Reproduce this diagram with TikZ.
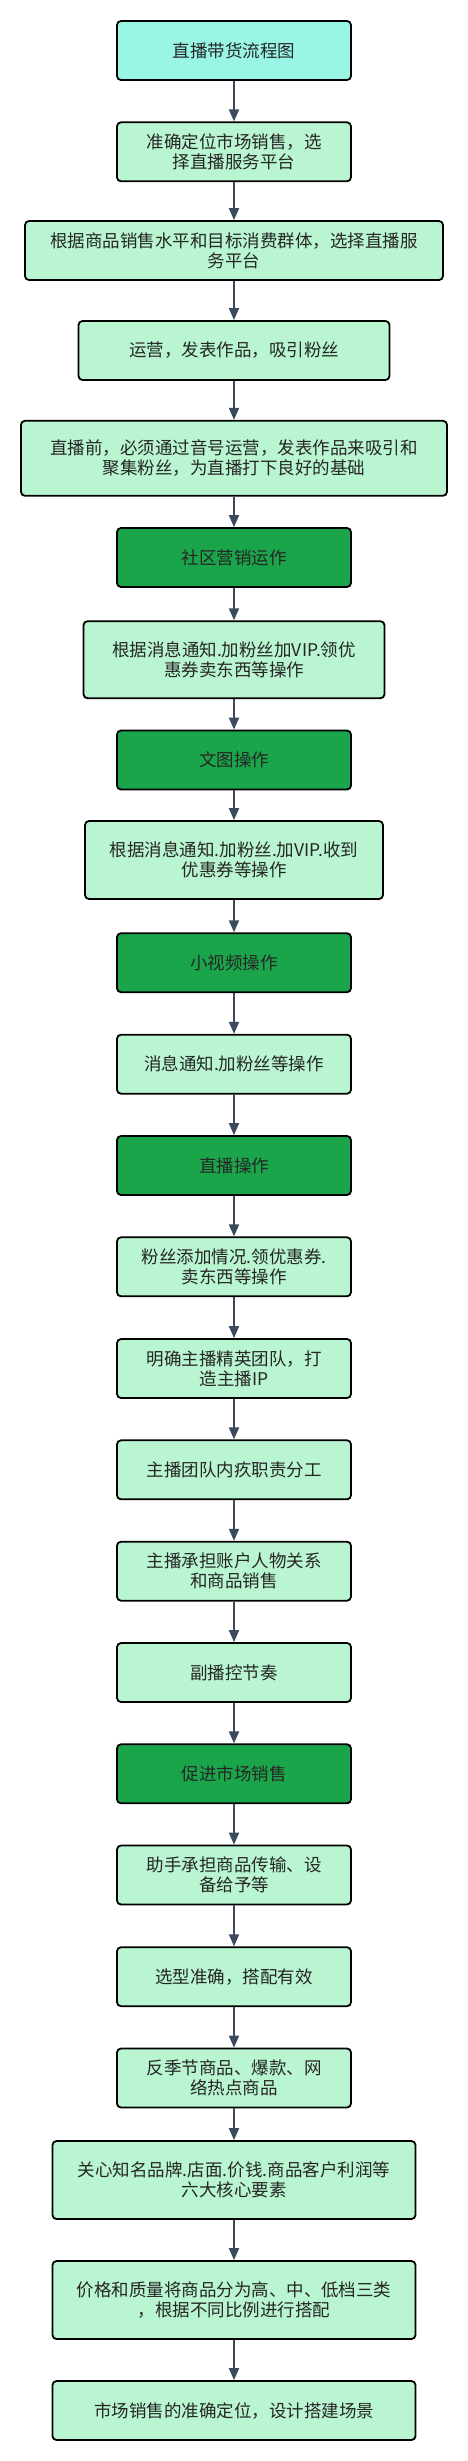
\documentclass[tikz,border=0pt]{standalone}
\usepackage{fontspec}
\setmainfont{Noto Sans CJK SC}
\usepackage{tikz}
\usetikzlibrary{arrows.meta, positioning}
\definecolor{titlecyan}{RGB}{153,245,228}
\definecolor{stepgreen}{RGB}{185,245,208}
\definecolor{opgreen}{RGB}{26,165,75}
\definecolor{flowslate}{RGB}{60,74,94}

\tikzset{
  stepbox/.style={draw=black, line width=1.8pt, rounded corners=4pt, fill=stepgreen,
    align=center, inner sep=0pt, minimum width=234pt, minimum height=59pt,
    text=black!85, font=\fontsize{17.5}{20}\selectfont},
  titlebox/.style={stepbox, fill=titlecyan},
  opbox/.style={stepbox, fill=opgreen},
  flow/.style={draw=flowslate, line width=1.8pt, -{Triangle[width=10pt,length=12pt]}}
}

\begin{document}
\begin{tikzpicture}[x=1pt, y=1pt]
  \useasboundingbox (0,0) rectangle (468,-2461);

  \node[titlebox] (n1) at (234,-50.5) {直播带货流程图};
  \node[stepbox] (n2) at (234,-151.8) {准确定位市场销售，选\\择直播服务平台};
  \node[stepbox, minimum width=418pt] (n3) at (234,-250.5) {根据商品销售水平和目标消费群体，选择直播服\\务平台};
  \node[stepbox, minimum width=311pt] (n4) at (234,-350.5) {运营，发表作品，吸引粉丝};
  \node[stepbox, minimum width=426pt, minimum height=75pt] (n5) at (234,-458.3) {直播前，必须通过音号运营，发表作品来吸引和\\聚集粉丝，为直播打下良好的基础};
  \node[opbox] (n6) at (234,-557.5) {社区营销运作};
  \node[stepbox, minimum width=301pt, minimum height=77pt] (n7) at (234,-659.7) {根据消息通知.加粉丝加VIP.领优\\惠券卖东西等操作};
  \node[opbox] (n8) at (234,-760) {文图操作};
  \node[stepbox, minimum width=298pt, minimum height=78pt] (n9) at (234,-860) {根据消息通知.加粉丝.加VIP.收到\\优惠券等操作};
  \node[opbox] (n10) at (234,-962.7) {小视频操作};
  \node[stepbox] (n11) at (234,-1064.2) {消息通知.加粉丝等操作};
  \node[opbox] (n12) at (234,-1165.5) {直播操作};
  \node[stepbox] (n13) at (234,-1266.8) {粉丝添加情况.领优惠券.\\卖东西等操作};
  \node[stepbox] (n14) at (234,-1368.5) {明确主播精英团队，打\\造主播IP};
  \node[stepbox] (n15) at (234,-1469.8) {主播团队内疚职责分工};
  \node[stepbox] (n16) at (234,-1571.2) {主播承担账户人物关系\\和商品销售};
  \node[stepbox] (n17) at (234,-1672.5) {副播控节奏};
  \node[opbox] (n18) at (234,-1773.8) {促进市场销售};
  \node[stepbox] (n19) at (234,-1875) {助手承担商品传输、设\\备给予等};
  \node[stepbox] (n20) at (234,-1976.7) {选型准确，搭配有效};
  \node[stepbox] (n21) at (234,-2078) {反季节商品、爆款、网\\络热点商品};
  \node[stepbox, minimum width=363pt, minimum height=78pt] (n22) at (234,-2180) {关心知名品牌.店面.价钱.商品客户利润等\\六大核心要素};
  \node[stepbox, minimum width=363pt, minimum height=78pt] (n23) at (234,-2300) {价格和质量将商品分为高、中、低档三类\\，根据不同比例进行搭配};
  \node[stepbox, minimum width=363pt] (n24) at (234,-2410.5) {市场销售的准确定位，设计搭建场景};

  % connectors, top to bottom
  \foreach \i [count=\j from 2] in {1,...,23}
    \draw[flow] (n\i) -- (n\j);
\end{tikzpicture}
\end{document}
